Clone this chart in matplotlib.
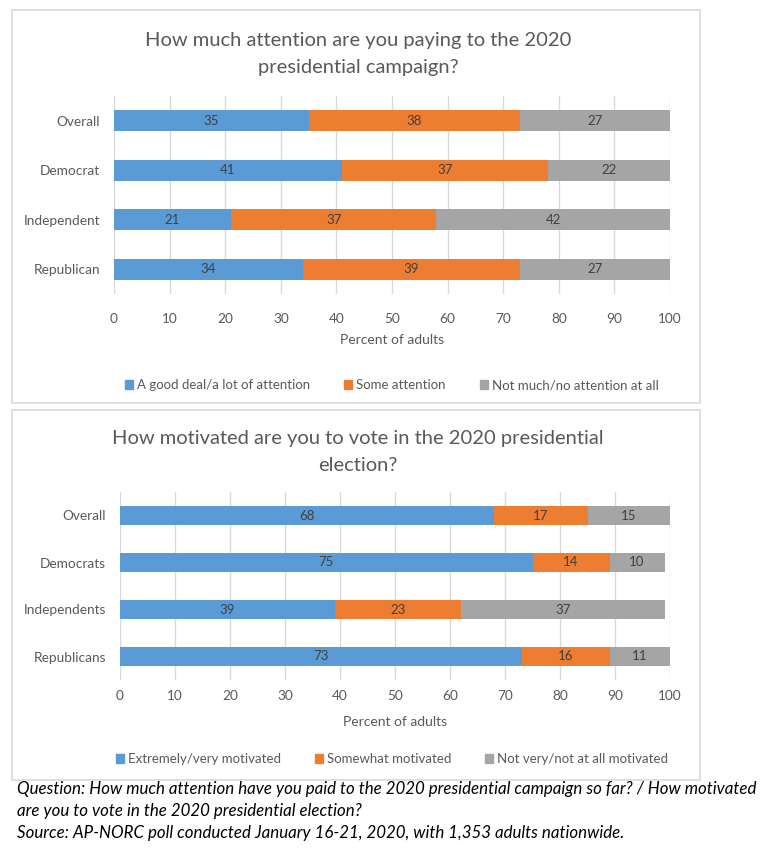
import matplotlib.pyplot as plt
from matplotlib.patches import Rectangle, Patch

W, H = 768, 848

groups_att = ['Overall', 'Democrat', 'Independent', 'Republican']
att_good = [35, 41, 21, 34]
att_some = [38, 37, 37, 39]
att_none = [27, 22, 42, 27]
att_names = ['A good deal/a lot of attention', 'Some attention', 'Not much/no attention at all']

groups_mot = ['Overall', 'Democrats', 'Independents', 'Republicans']
mot_very = [68, 75, 39, 73]
mot_some = [17, 14, 23, 16]
mot_not = [15, 10, 37, 11]
mot_names = ['Extremely/very motivated', 'Somewhat motivated', 'Not very/not at all motivated']

ticks = [0, 10, 20, 30, 40, 50, 60, 70, 80, 90, 100]
colors = ['#5B9BD5', '#ED7D31', '#A5A5A5']
TXT = '#595959'

plt.rcParams['font.family'] = ['Lato', 'DejaVu Sans']

fig = plt.figure(figsize=(W / 100, H / 100), dpi=100)


def px(x0, y0, x1, y1):
    # pixel box (top-left origin) -> figure fraction rect
    return [x0 / W, 1 - y1 / H, (x1 - x0) / W, (y1 - y0) / H]


def panel(box, title, title_y, ax_box, groups, series, names, bar_h, xpad, lpad, leg_y):
    x0, y0, x1, y1 = box
    fig.patches.append(Rectangle((x0 / W, 1 - y1 / H), (x1 - x0) / W, (y1 - y0) / H,
                                 transform=fig.transFigure, fill=False,
                                 edgecolor='#D9D9D9', lw=1.2))
    fig.text(358 / W, 1 - title_y / H, title, ha='center', va='center',
             fontsize=14.5, color=TXT, linespacing=1.75)
    ax = fig.add_axes(px(*ax_box))
    pos = list(range(len(groups)))
    left = [0] * len(groups)
    for vals, c, n in zip(series, colors, names):
        bars = ax.barh(pos, vals, left=left, height=bar_h, color=c, label=n, zorder=2)
        ax.bar_label(bars, labels=[str(v) for v in vals], label_type='center',
                     fontsize=9.5, color='#404040')
        left = [l + v for l, v in zip(left, vals)]
    ax.set_ylim(len(groups) - 0.5, -0.5)
    ax.set_xlim(0, 100)
    ax.set_xticks(ticks)
    ax.set_yticks(pos)
    ax.set_yticklabels(groups)
    ax.tick_params(length=0, labelsize=9.8, labelcolor=TXT)
    ax.tick_params(axis='y', pad=10)
    ax.tick_params(axis='x', pad=xpad)
    ax.grid(axis='x', color='#D9D9D9', lw=1, zorder=0)
    for s in ax.spines.values():
        s.set_visible(False)
    ax.set_xlabel('Percent of adults', fontsize=10, color=TXT, labelpad=lpad)
    handles = [Patch(color=c) for c in colors]
    fig.legend(handles, names, loc='center', bbox_to_anchor=(392 / W, 1 - leg_y / H),
               ncol=3, frameon=False, fontsize=9.5, labelcolor=TXT,
               handlelength=0.6, handleheight=0.6, handletextpad=0.3, columnspacing=2.6)
    return ax


panel((12, 10, 700, 403), 'How much attention are you paying to the 2020\npresidential campaign?',
      54, (114, 96, 670, 294), groups_att, [att_good, att_some, att_none], att_names,
      0.42, 14, 6, 385)

panel((12, 410, 700, 780), 'How motivated are you to vote in the 2020 presidential\nelection?',
      452, (120, 492, 670, 680), groups_mot, [mot_very, mot_some, mot_not], mot_names,
      0.39, 7, 10, 759)

fig.text(17 / W, 1 - 811 / H,
         'Question: How much attention have you paid to the 2020 presidential campaign so far? / How motivated\n'
         'are you to vote in the 2020 presidential election?\n'
         'Source: AP-NORC poll conducted January 16-21, 2020, with 1,353 adults nationwide.',
         ha='left', va='center', fontsize=12.2, style='italic', color='black', linespacing=1.45)

fig.savefig('out.png', dpi=100)
